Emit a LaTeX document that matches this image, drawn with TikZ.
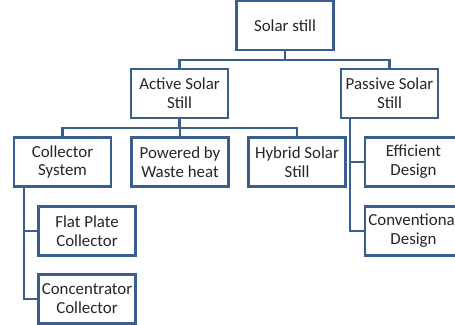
\documentclass[tikz,border=0pt]{standalone}
\usepackage{fontspec}
\setmainfont{Carlito}

\definecolor{boxblue}{RGB}{58,95,143}
\tikzset{
	box/.style={draw=boxblue, line width=1.6pt, fill=white, minimum width=2.425cm, minimum height=1.225cm, inner sep=0pt, align=center, font=\fontsize{12}{13.5}\selectfont, text=black!85},
	link/.style={draw=boxblue, line width=1.6pt}
}

\begin{document}
\begin{tikzpicture}[x=0.025cm, y=-0.025cm]
		\clip (0,0) rectangle (455,324); % Page.

		\node[box] (still) at (285,25.5) {Solar still};
		\node[box] (active) at (179.5,93.5) {Active Solar\\Still};
		\node[box] (passive) at (389.5,93.5) {Passive Solar\\Still};

		\node[box] (collector) at (62.5,162) {Collector\\System};
		\node[box] (waste) at (180,162) {Powered by\\Waste heat};
		\node[box] (hybrid) at (297,162) {Hybrid Solar\\Still};
		\node[box] (efficient) at (413.5,162) {Efficient\\Design};
		\node[box] (conventional) at (413.5,231) {Conventional\\Design};

		\node[box] (flat) at (87,231) {Flat Plate\\Collector};
		\node[box] (concentrator) at (87,299) {Concentrator\\Collector};

		\coordinate (sj) at (285,60);
		\coordinate (aj) at (179.5,128);
		\coordinate (pj) at ([xshift=0.25cm]passive.south west);
		\coordinate (cj) at ([xshift=0.275cm]collector.south west);

		\draw[link] (still.south) -- (sj);
		\draw[link] (sj) -| (active.north);
		\draw[link] (sj) -| (passive.north);

		\draw[link] (active.south) -- (aj);
		\draw[link] (aj) -| (collector.north);
		\draw[link] (aj) -| (waste.north);
		\draw[link] (aj) -| (hybrid.north);

		\draw[link] (pj) |- (efficient.west);
		\draw[link] (pj) |- (conventional.west);

		\draw[link] (cj) |- (flat.west);
		\draw[link] (cj) |- (concentrator.west);
	\end{tikzpicture}
\end{document}
